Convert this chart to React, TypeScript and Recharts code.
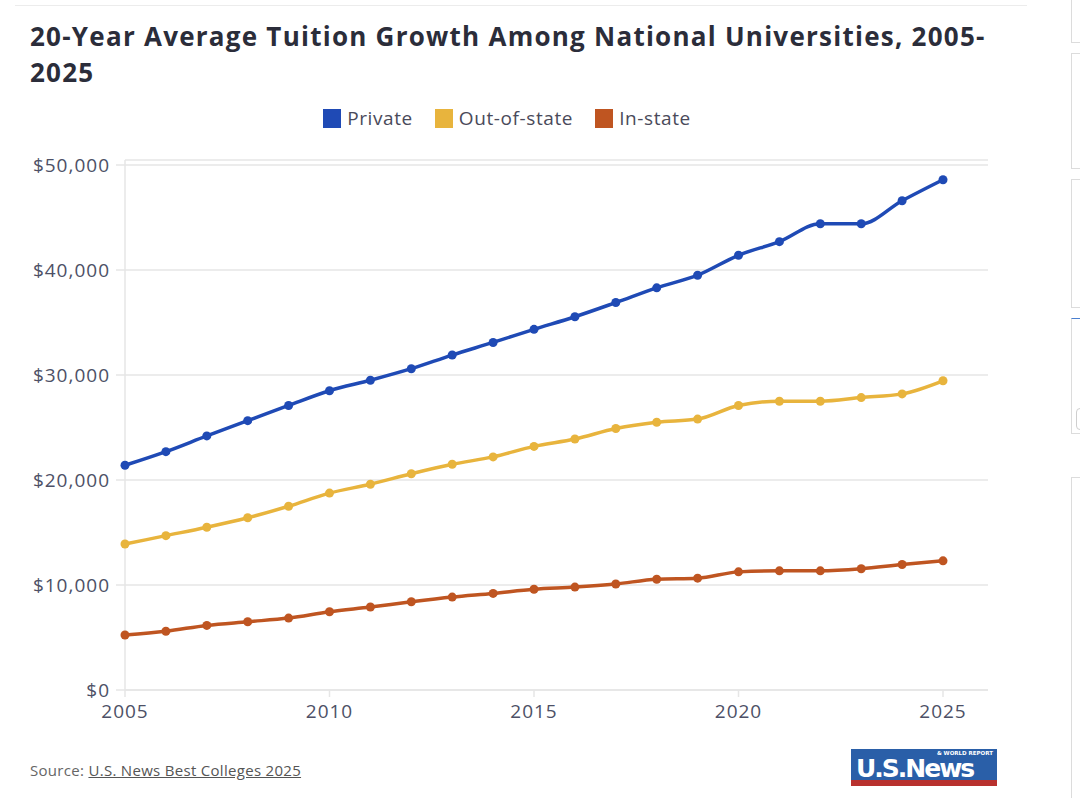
import {
  LineChart,
  Line,
  XAxis,
  YAxis,
  CartesianGrid,
} from "recharts";

const years = [
  2005, 2006, 2007, 2008, 2009, 2010, 2011, 2012, 2013, 2014, 2015, 2016,
  2017, 2018, 2019, 2020, 2021, 2022, 2023, 2024, 2025,
];

const privateTuition = [
  21400, 22700, 24200, 25650, 27100, 28500, 29500, 30600, 31900, 33100, 34350,
  35550, 36900, 38300, 39500, 41400, 42700, 44400, 44400, 46600, 48600,
];

const outOfStateTuition = [
  13900, 14700, 15500, 16400, 17500, 18750, 19600, 20600, 21500, 22200, 23200,
  23900, 24900, 25500, 25800, 27100, 27500, 27500, 27850, 28200, 29450,
];

const inStateTuition = [
  5240, 5600, 6150, 6500, 6850, 7450, 7900, 8400, 8850, 9200, 9600, 9800,
  10100, 10550, 10650, 11250, 11350, 11350, 11550, 11950, 12300,
];

const yTicks = [0, 10000, 20000, 30000, 40000, 50000];
const xTicks = [2005, 2010, 2015, 2020, 2025];

const series = [
  { key: "private", name: "Private", color: "#1f4ab5" },
  { key: "outOfState", name: "Out-of-state", color: "#e8b43d" },
  { key: "inState", name: "In-state", color: "#bf5521" },
];

const chartData = years.map((year, i) => ({
  year,
  private: privateTuition[i],
  outOfState: outOfStateTuition[i],
  inState: inStateTuition[i],
}));

const FONT = "'Open Sans', sans-serif";
const GRID = "#e6e6e6";
const TICK = { fill: "#4d5066", fontSize: 19, fontFamily: FONT, letterSpacing: 1 };

const fmtMoney = (v: number) => "$" + v.toLocaleString("en-US");

export default function App() {
  return (
    <div
      style={{
        position: "absolute",
        left: 0,
        top: 0,
        width: 1080,
        height: 798,
        background: "#fff",
        fontFamily: FONT,
        overflow: "hidden",
      }}
    >
      {/* top rule */}
      <div
        style={{
          position: "absolute",
          left: 15,
          top: 5,
          width: 1012,
          height: 1,
          background: "#ececec",
        }}
      />

      {/* side panel outlines from the page */}
      <div style={{ position: "absolute", left: 1071, top: -2, width: 20, height: 43, border: "1px solid #dcdcdc" }} />
      <div style={{ position: "absolute", left: 1071, top: 53, width: 20, height: 114, border: "1px solid #dcdcdc" }} />
      <div style={{ position: "absolute", left: 1071, top: 179, width: 20, height: 127, border: "1px solid #dcdcdc" }} />
      <div style={{ position: "absolute", left: 1071, top: 318, width: 20, height: 114, border: "1px solid #dcdcdc", borderTop: "1px solid #4a7fd0" }} />
      <div style={{ position: "absolute", left: 1076, top: 408, width: 10, height: 20, border: "1px solid #cfcfcf", borderRadius: 4 }} />
      <div style={{ position: "absolute", left: 1071, top: 477, width: 20, height: 330, border: "1px solid #dcdcdc" }} />

      <div
        style={{
          position: "absolute",
          left: 30,
          top: 18,
          fontSize: 26,
          fontWeight: 700,
          letterSpacing: 1.25,
          lineHeight: "36px",
          color: "#2b2d3a",
          whiteSpace: "nowrap",
        }}
      >
        20-Year Average Tuition Growth Among National Universities, 2005-
        <br />
        2025
      </div>

      {/* legend */}
      <div
        style={{
          position: "absolute",
          left: 0,
          top: 105,
          width: 1014,
          display: "flex",
          justifyContent: "center",
          gap: 22,
          fontSize: 19,
          letterSpacing: 0.6,
          color: "#4a4a5a",
        }}
      >
        {series.map((s) => (
          <div key={s.key} style={{ display: "flex", alignItems: "center", gap: 6 }}>
            <div style={{ width: 18, height: 19, background: s.color }} />
            <span>{s.name}</span>
          </div>
        ))}
      </div>

      <div style={{ position: "absolute", left: 0, top: 140 }}>
        <LineChart
          width={1000}
          height={590}
          data={chartData}
          margin={{ top: 20, right: 12, bottom: 0, left: 0 }}
        >
          <CartesianGrid vertical={false} stroke={GRID} strokeWidth={1.5} />
          <XAxis
            dataKey="year"
            type="number"
            domain={[2005, 2026.1]}
            ticks={xTicks}
            height={40}
            tickSize={7}
            tickMargin={8}
            stroke={GRID}
            strokeWidth={1.5}
            tick={TICK}
          />
          <YAxis
            type="number"
            domain={[0, 50476]}
            ticks={yTicks}
            width={125}
            tickSize={9}
            tickMargin={6}
            stroke={GRID}
            strokeWidth={1.5}
            tickFormatter={fmtMoney}
            tick={TICK}
          />
          {series.map((s) => (
            <Line
              key={s.key}
              type="monotone"
              dataKey={s.key}
              name={s.name}
              stroke={s.color}
              strokeWidth={3.5}
              dot={{ r: 4.5, fill: s.color, stroke: s.color, strokeWidth: 0 }}
              isAnimationActive={false}
            />
          ))}
        </LineChart>
      </div>

      <div
        style={{
          position: "absolute",
          left: 30,
          top: 760,
          fontSize: 15,
          letterSpacing: 0.3,
          color: "#666",
        }}
      >
        Source:{" "}
        <span style={{ textDecoration: "underline", color: "#555" }}>
          U.S. News Best Colleges 2025
        </span>
      </div>

      {/* logo */}
      <div
        style={{
          position: "absolute",
          left: 851,
          top: 749,
          width: 146,
          height: 37,
          background: "#2a5fa8",
          borderBottom: "6px solid #b8312e",
          boxSizing: "border-box",
          color: "#fff",
          fontFamily: "'DejaVu Sans', sans-serif",
          fontWeight: 700,
        }}
      >
        <div
          style={{
            position: "absolute",
            left: 5,
            top: 8,
            fontSize: 25,
            lineHeight: "23px",
            letterSpacing: -2,
          }}
        >
          U.S.News
        </div>
        <div
          style={{
            position: "absolute",
            right: 4,
            top: 1,
            fontSize: 5.5,
            lineHeight: "7px",
          }}
        >
          &amp; WORLD REPORT
        </div>
      </div>
    </div>
  );
}
